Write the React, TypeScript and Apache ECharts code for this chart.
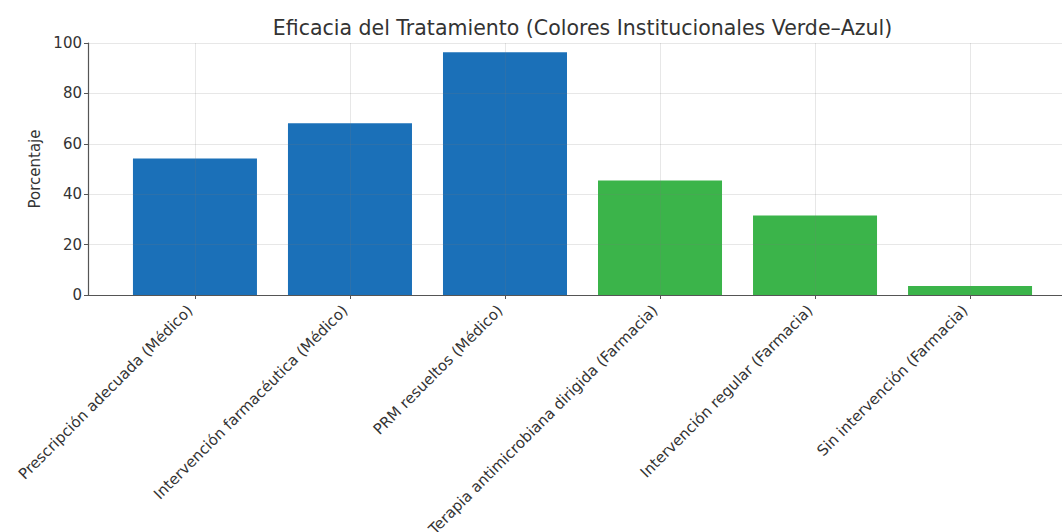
import { useEffect, useRef } from "react";
import * as echarts from "echarts";

// Treatment efficacy per intervention, grouped by who delivers it
const categories = [
  "Prescripción adecuada (Médico)",
  "Intervención farmacéutica (Médico)",
  "PRM resueltos (Médico)",
  "Terapia antimicrobiana dirigida (Farmacia)",
  "Intervención regular (Farmacia)",
  "Sin intervención (Farmacia)",
];
const values = [54.2, 68.2, 96.3, 45.4, 31.5, 3.6];
const groups = ["Médico", "Médico", "Médico", "Farmacia", "Farmacia", "Farmacia"];
const yTicks = [0, 20, 40, 60, 80, 100];

const groupColors: Record<string, string> = {
  Médico: "#1b70b8",
  Farmacia: "#3bb44a",
};

const FONT = "DejaVu Sans";

export default function App() {
  const ref = useRef<HTMLDivElement>(null);

  useEffect(() => {
    document.body.style.margin = "0";
    if (!ref.current) return;
    const chart = echarts.init(ref.current, null, { renderer: "svg" });

    const gridLeft = 88;
    const gridTop = 43;
    const gridWidth = 989;
    const gridHeight = 252;
    // matplotlib-like limits: bars of width 0.8 with 5% margins
    const xMin = -0.69;
    const xMax = categories.length - 1 + 0.69;
    const unitPx = gridWidth / (xMax - xMin);
    const positions = categories.map((_, i) => i);

    chart.setOption({
      animation: false,
      textStyle: { fontFamily: FONT },
      graphic: [
        {
          type: "text",
          x: gridLeft + gridWidth / 2,
          y: 28,
          style: {
            text: "Eficacia del Tratamiento (Colores Institucionales Verde–Azul)",
            textAlign: "center",
            textVerticalAlign: "middle",
            font: `20.5px '${FONT}'`,
            fill: "#333333",
          },
        },
      ],
      grid: {
        left: gridLeft,
        top: gridTop,
        width: gridWidth,
        height: gridHeight,
        outerBoundsMode: "none",
      },
      xAxis: {
        type: "value",
        min: xMin,
        max: xMax,
        z: 3,
        axisLine: { show: true, onZero: false, lineStyle: { color: "#555555", width: 1.2 } },
        axisTick: {
          show: true,
          customValues: positions,
          length: 4,
          lineStyle: { color: "#555555" },
        },
        splitLine: {
          show: true,
          lineStyle: { color: "rgba(120,120,120,0.18)", width: 1 },
        },
        axisLabel: {
          customValues: positions,
          rotate: 45,
          margin: 8,
          padding: [0, 7, 0, 0],
          fontSize: 15,
          color: "#333333",
          fontFamily: FONT,
          formatter: (v: number) => categories[Math.round(v)] ?? "",
        },
      },
      yAxis: {
        type: "value",
        min: yTicks[0],
        max: yTicks[yTicks.length - 1],
        interval: yTicks[1] - yTicks[0],
        z: 3,
        name: "Porcentaje",
        nameLocation: "middle",
        nameGap: 39,
        nameTextStyle: { fontSize: 15, color: "#333333", fontFamily: FONT },
        axisLine: { show: true, onZero: false, lineStyle: { color: "#555555", width: 1.2 } },
        axisTick: { show: true, length: 4, lineStyle: { color: "#555555" } },
        splitLine: {
          show: true,
          lineStyle: { color: "rgba(120,120,120,0.18)", width: 1 },
        },
        axisLabel: { fontSize: 15, color: "#333333", margin: 6, fontFamily: FONT },
      },
      series: [
        {
          type: "bar",
          barWidth: unitPx * 0.8,
          data: values.map((v, i) => ({
            value: [positions[i], v],
            itemStyle: { color: groupColors[groups[i]] },
          })),
        },
      ],
    });

    return () => chart.dispose();
  }, []);

  return (
    <div style={{ width: 1062, height: 532, overflow: "hidden", position: "relative" }}>
      <div ref={ref} style={{ width: 1100, height: 532 }} />
    </div>
  );
}
